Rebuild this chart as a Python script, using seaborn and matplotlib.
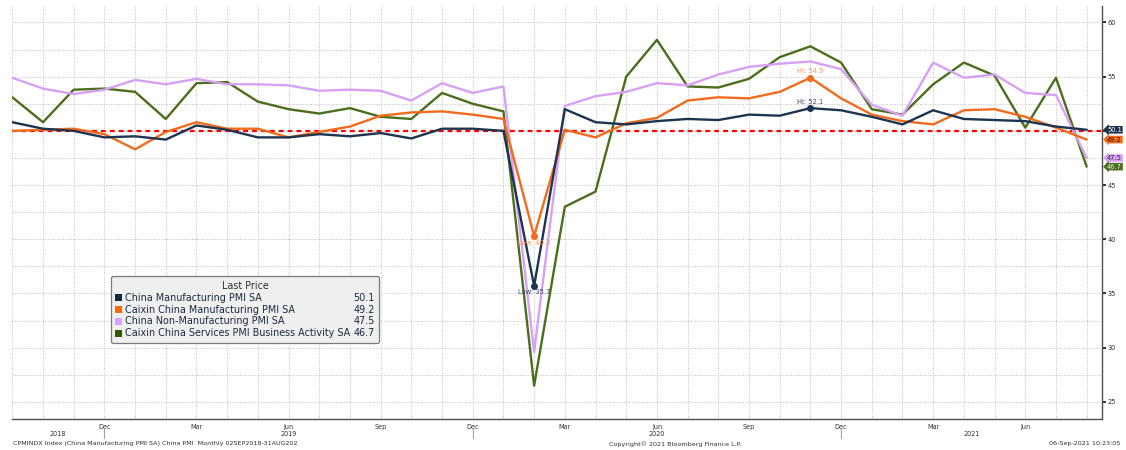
import numpy as np
import pandas as pd
import matplotlib
matplotlib.use("Agg")
import matplotlib.pyplot as plt
import seaborn as sns
from matplotlib.patches import Patch

# monthly readings, Sep 2018 .. Aug 2021
months = pd.date_range("2018-09-01", periods=36, freq="MS")

china_mfg = [50.8, 50.2, 50.0, 49.4,
             49.5, 49.2, 50.5, 50.1, 49.4, 49.4, 49.7, 49.5, 49.8, 49.3, 50.2, 50.2,
             50.0, 35.7, 52.0, 50.8, 50.6, 50.9, 51.1, 51.0, 51.5, 51.4, 52.1, 51.9,
             51.3, 50.6, 51.9, 51.1, 51.0, 50.9, 50.4, 50.1]
caixin_mfg = [50.0, 50.1, 50.2, 49.7,
              48.3, 49.9, 50.8, 50.2, 50.2, 49.4, 49.9, 50.4, 51.4, 51.7, 51.8, 51.5,
              51.1, 40.3, 50.1, 49.4, 50.7, 51.2, 52.8, 53.1, 53.0, 53.6, 54.9, 53.0,
              51.5, 50.9, 50.6, 51.9, 52.0, 51.3, 50.3, 49.2]
china_nonmfg = [54.9, 53.9, 53.4, 53.8,
                54.7, 54.3, 54.8, 54.3, 54.3, 54.2, 53.7, 53.8, 53.7, 52.8, 54.4, 53.5,
                54.1, 29.6, 52.3, 53.2, 53.6, 54.4, 54.2, 55.2, 55.9, 56.2, 56.4, 55.7,
                52.4, 51.4, 56.3, 54.9, 55.2, 53.5, 53.3, 47.5]
caixin_services = [53.1, 50.8, 53.8, 53.9,
                   53.6, 51.1, 54.4, 54.5, 52.7, 52.0, 51.6, 52.1, 51.3, 51.1, 53.5, 52.5,
                   51.8, 26.5, 43.0, 44.4, 55.0, 58.4, 54.1, 54.0, 54.8, 56.8, 57.8, 56.3,
                   52.0, 51.5, 54.3, 56.3, 55.1, 50.3, 54.9, 46.7]

series_names = ["China Manufacturing PMI SA",
                "Caixin China Manufacturing PMI SA",
                "China Non-Manufacturing PMI SA",
                "Caixin China Services PMI Business Activity SA"]
line_colors = ["#1d3450", "#f26b1d", "#d8a0f5", "#4b6e1c"]
legend_colors = ["#0f2a45", "#ff6600", "#d9a0ff", "#2f5a00"]
tag_text_colors = ["white", "#3a1800", "#303030", "#e8e8e8"]
y_ticks = [25, 30, 35, 40, 45, 50, 55, 60]
y_labels = ["25", "30", "35", "40", "45", "", "55", "60"]  # 50 sits under the tags

W, H = 1126, 450
fig = plt.figure(figsize=(W / 100, H / 100), dpi=100)
sns.set_style("white")
plt.rcParams["font.family"] = ["DejaVu Sans"]

ax = fig.add_axes([12.3 / W, 1 - 418.7 / H, (1101.7 - 12.3) / W, (418.7 - 6) / H])

idx = np.arange(len(months))
all_values = [china_mfg, caixin_mfg, china_nonmfg, caixin_services]
df = pd.concat([pd.DataFrame({"i": idx, "value": v, "series": n})
                for n, v in zip(series_names, all_values)])
# draw in reverse so the manufacturing lines sit on top
for name, color in reversed(list(zip(series_names, line_colors))):
    sns.lineplot(data=df[df.series == name], x="i", y="value", color=color,
                 lw=1.7, ax=ax, legend=False)

ax.axhline(50, color="red", lw=1.6, ls=(0, (2.2, 1.8)), zorder=1.5)

# axes / grid
quarter_idx = [i for i, m in enumerate(months) if m.month in (3, 6, 9, 12) and i > 0]
ax.set_xticks(quarter_idx)
ax.set_xticklabels([months[i].strftime("%b") for i in quarter_idx])
ax.set_xticks(idx, minor=True)
ax.set_yticks(y_ticks)
ax.set_yticklabels(y_labels)
ax.set_yticks(np.arange(22.5, 62.6, 2.5), minor=True)
ax.set_xlim(0, 35.49)
ax.set_ylim(23.45, 61.52)
ax.yaxis.tick_right()
ax.grid(which="both", color="#bdbdbd", lw=0.7, ls=(0, (1, 1.6)))
ax.set_xlabel("")
ax.set_ylabel("")
for s in ["top", "left"]:
    ax.spines[s].set_visible(False)
for s in ["bottom", "right"]:
    ax.spines[s].set_color("#505050")
    ax.spines[s].set_linewidth(1.0)
ax.tick_params(axis="x", which="both", direction="inout", length=3, width=0.8,
               color="#505050", labelsize=4.7, pad=2, labelcolor="#303030")
ax.tick_params(axis="y", which="major", direction="out", length=3, width=1.4,
               color="#303030", labelsize=4.8, pad=1, labelcolor="#303030")
ax.tick_params(axis="y", which="minor", length=0)

# year row
xt = ax.get_xaxis_transform()
for x, yr in [(1.49, "2018"), (9, "2019"), (21, "2020"), (31.25, "2021")]:
    ax.text(x, -0.037, yr, transform=xt, ha="center", va="center",
            fontsize=4.7, color="#303030")
for i, m in enumerate(months):
    if m.month == 12:
        ax.plot([i, i], [-0.0225, -0.047], transform=xt, clip_on=False,
                color="#a0a0a0", lw=0.8)

# hi / low markers for the two manufacturing series
ann_colors = ["#3a4d66", "#f59a5c"]
for vals, lc, tc in zip(all_values[:2], line_colors[:2], ann_colors):
    hi, lo = int(np.argmax(vals)), int(np.argmin(vals))
    ax.plot(hi, vals[hi], "o", color=lc, ms=4, zorder=5)
    ax.plot(lo, vals[lo], "o", color=lc, ms=4, zorder=5)
    ax.annotate(f"Hi: {vals[hi]}", (hi, vals[hi]), xytext=(0, 2.5),
                textcoords="offset points", ha="center", va="bottom",
                fontsize=4.9, color=tc)
    ax.annotate(f"Low: {vals[lo]}", (lo, vals[lo]), xytext=(0, -2.5),
                textcoords="offset points", ha="center", va="top",
                fontsize=4.9, color=tc)

# last value tags on the right axis
yt = ax.get_yaxis_transform()
for vals, lc, tc in zip(all_values, line_colors, tag_text_colors):
    ax.text(1.005, vals[-1], f"{vals[-1]}", transform=yt, ha="left", va="center",
            fontsize=4.8, color=tc, clip_on=False, zorder=6,
            bbox=dict(boxstyle="larrow,pad=0.12", fc=lc, ec="none"))

# legend with last prices
handles = [Patch(facecolor=c, edgecolor="none") for c in legend_colors]
handles += [Patch(facecolor="none", edgecolor="none") for _ in legend_colors]
labels = series_names + [f"{v[-1]}" for v in all_values]
leg = ax.legend(handles, labels, ncol=2, title="Last Price",
                loc="lower left", bbox_to_anchor=(110.7 / W, 1 - 342.7 / H),
                bbox_transform=fig.transFigure, fontsize=6.9, title_fontsize=6.9,
                handlelength=0.75, handleheight=0.75, handletextpad=0.25,
                labelspacing=0.2, columnspacing=-0.6, borderpad=0.45,
                borderaxespad=0, frameon=True, fancybox=True, framealpha=1)
leg.get_frame().set_facecolor("#efefef")
leg.get_frame().set_edgecolor("#7a7a7a")
leg.get_frame().set_linewidth(0.9)
for t in leg.get_texts():
    t.set_color("#1a2a40")
leg.get_title().set_color("#303030")

# footer
fig.text(13 / W, 1 - 444 / H,
         "CPMINDX Index (China Manufacturing PMI SA) China PMI  Monthly 02SEP2018-31AUG202",
         ha="left", va="center", fontsize=4.6, color="#303030")
fig.text(675 / W, 1 - 444 / H, "Copyright\u00a9 2021 Bloomberg Finance L.P.",
         ha="center", va="center", fontsize=4.6, color="#303030")
fig.text(1120 / W, 1 - 444 / H, "06-Sep-2021 10:23:05",
         ha="right", va="center", fontsize=4.6, color="#303030")

fig.savefig("out.png", dpi=100, facecolor="white")
